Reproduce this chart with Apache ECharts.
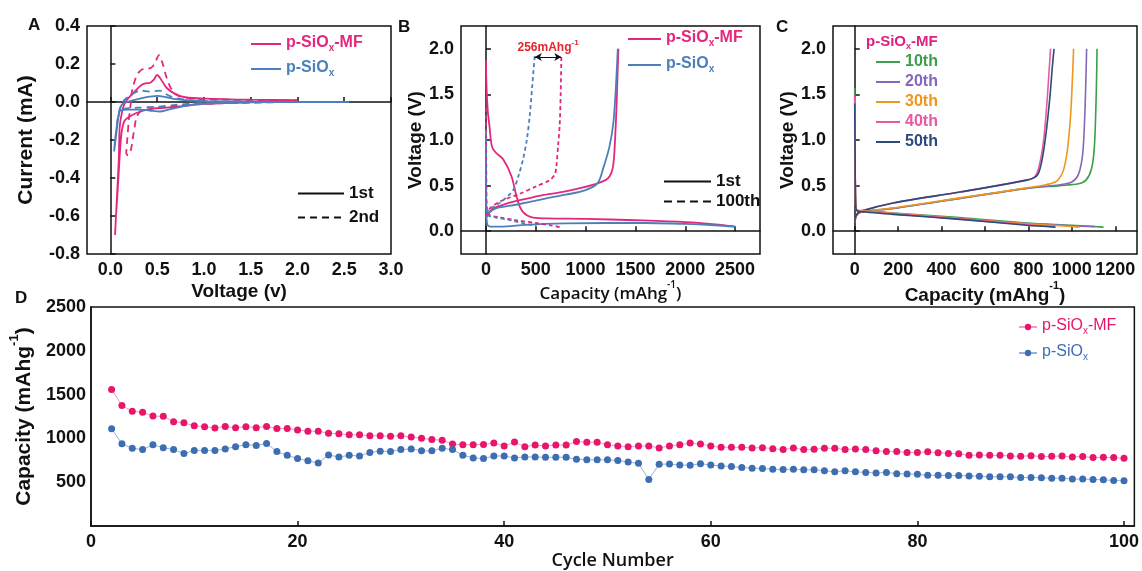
<!DOCTYPE html>
<html><head><meta charset="utf-8">
<script src="https://cdn.jsdelivr.net/npm/echarts@6/dist/echarts.min.js"></script>
<style>html,body{margin:0;padding:0;background:#fff}#c{width:1142px;height:571px}</style>
</head><body><div id="c"></div>
<script>
// ---------- Panel A : CV curves [voltage (V), current (mA)] ----------
const aVoltTicks = [0, 0.5, 1.0, 1.5, 2.0, 2.5, 3.0];
const cvMF1st = [[2.0,0.005],[1.5,0.0],[1.0,-0.01],[0.8,-0.02],[0.6,-0.03],[0.45,-0.035],[0.32,-0.05],[0.21,-0.075],[0.15,-0.1],[0.12,-0.16],[0.1,-0.28],[0.08,-0.45],[0.06,-0.6],[0.05,-0.7],[0.07,-0.5],[0.09,-0.3],[0.1,-0.13],[0.13,-0.04],[0.16,0.0],[0.21,0.03],[0.25,0.05],[0.32,0.085],[0.37,0.098],[0.42,0.1],[0.46,0.115],[0.5,0.142],[0.54,0.12],[0.6,0.075],[0.7,0.04],[0.8,0.025],[1.0,0.018],[1.5,0.012],[2.0,0.01]];
const cvMF2nd = [[2.0,0.0],[1.5,-0.003],[1.0,-0.01],[0.7,-0.02],[0.5,-0.03],[0.4,-0.04],[0.32,-0.05],[0.28,-0.08],[0.26,-0.13],[0.24,-0.19],[0.22,-0.25],[0.19,-0.28],[0.17,-0.27],[0.18,-0.2],[0.2,-0.08],[0.22,0.0],[0.23,0.054],[0.27,0.125],[0.31,0.16],[0.37,0.177],[0.42,0.177],[0.47,0.2],[0.52,0.247],[0.56,0.2],[0.6,0.13],[0.65,0.07],[0.72,0.035],[0.85,0.02],[1.0,0.015],[1.5,0.01],[2.0,0.008]];
const cvS1st = [[2.55,0.0],[2.0,0.0],[1.5,-0.002],[1.0,-0.008],[0.8,-0.02],[0.62,-0.04],[0.53,-0.05],[0.42,-0.045],[0.3,-0.04],[0.2,-0.04],[0.107,-0.045],[0.09,-0.07],[0.07,-0.12],[0.05,-0.2],[0.04,-0.26],[0.06,-0.18],[0.08,-0.1],[0.1,-0.04],[0.13,-0.01],[0.25,0.01],[0.35,0.022],[0.42,0.028],[0.5,0.032],[0.6,0.025],[0.7,0.015],[0.85,0.008],[1.0,0.005],[1.5,0.002],[2.0,0.0],[2.55,0.0]];
const cvS2nd = [[2.0,0.0],[1.0,-0.005],[0.7,-0.015],[0.5,-0.025],[0.3,-0.03],[0.15,-0.035],[0.1,-0.05],[0.08,-0.09],[0.07,-0.12],[0.08,-0.08],[0.1,-0.04],[0.13,0.0],[0.2,0.03],[0.32,0.06],[0.42,0.055],[0.53,0.06],[0.6,0.04],[0.7,0.02],[0.85,0.01],[1.0,0.005],[1.5,0.0],[2.0,0.0]];

// ---------- Panel B : GCD [capacity (mAh/g), voltage (V)] ----------
const bCapTicks = [0, 500, 1000, 1500, 2000, 2500];
const bVoltTicks = [0, 0.5, 1.0, 1.5, 2.0];
const gMF1Dis = [[0,1.88],[3,1.7],[8,1.53],[20,1.3],[35,1.16],[60,0.93],[100,0.86],[173,0.79],[257,0.6],[307,0.38],[340,0.27],[373,0.21],[420,0.17],[473,0.15],[607,0.14],[1000,0.135],[1500,0.12],[2000,0.1],[2300,0.075],[2500,0.05]];
const gMF1Chg = [[0,0.15],[30,0.2],[73,0.25],[200,0.3],[340,0.34],[550,0.39],[773,0.43],[900,0.46],[1107,0.52],[1200,0.56],[1240,0.6],[1270,0.68],[1285,0.8],[1300,1.1],[1310,1.35],[1320,1.7],[1330,2.0]];
const gS1Dis = [[0,1.1],[0,0.5],[5,0.2],[15,0.07],[50,0.05],[150,0.05],[400,0.07],[800,0.085],[1200,0.09],[1600,0.09],[2000,0.08],[2300,0.065],[2500,0.05]];
const gS1Chg = [[0,0.15],[30,0.2],[100,0.25],[300,0.29],[607,0.36],[800,0.4],[1000,0.45],[1123,0.53],[1180,0.7],[1240,0.93],[1280,1.2],[1307,1.64],[1323,2.0]];
const gMF100Dis = [[0,1.35],[2,1.0],[5,0.5],[10,0.25],[30,0.18],[150,0.15],[300,0.12],[500,0.09],[650,0.065],[740,0.045]];
const gMF100Chg = [[0,0.17],[40,0.25],[150,0.33],[340,0.41],[500,0.49],[640,0.56],[690,0.62],[707,0.71],[725,0.95],[740,1.16],[750,1.5],[757,1.92]];
const gS100Dis = [[0,1.1],[2,0.7],[5,0.3],[15,0.18],[100,0.15],[250,0.12],[400,0.08],[507,0.06]];
const gS100Chg = [[0,0.2],[50,0.25],[150,0.32],[273,0.45],[330,0.62],[373,0.79],[410,1.0],[440,1.27],[465,1.6],[490,1.92]];
const gapArrow = [490, 757, 1.91];

// ---------- Panel C : p-SiOx-MF cycles [capacity, voltage] ----------
const cCapTicks = [0, 200, 400, 600, 800, 1000, 1200];
const cycleNames = ['10th', '20th', '30th', '40th', '50th'];
const c10Dis = [[0,1.57],[2,0.8],[4,0.3],[10,0.23],[50,0.225],[177,0.2],[485,0.15],[792,0.09],[1000,0.065],[1146,0.045]];
const c20Dis = [[0,1.5],[2,0.8],[4,0.3],[10,0.23],[50,0.22],[177,0.195],[485,0.14],[792,0.085],[1000,0.06],[1105,0.05]];
const c30Dis = [[0,1.45],[2,0.8],[4,0.3],[10,0.23],[50,0.22],[177,0.195],[485,0.14],[792,0.08],[950,0.06],[1035,0.045]];
const c40Dis = [[0,1.48],[2,0.8],[4,0.3],[10,0.225],[50,0.215],[177,0.19],[485,0.135],[792,0.07],[920,0.05]];
const c50Dis = [[0,1.4],[2,0.8],[4,0.3],[10,0.225],[50,0.21],[177,0.185],[485,0.13],[792,0.065],[925,0.045]];
const c10Chg = [[0,0.1],[8,0.17],[30,0.21],[177,0.25],[485,0.36],[792,0.47],[946,0.5],[1030,0.52],[1065,0.56],[1090,0.68],[1103,0.9],[1110,1.3],[1114,1.7],[1116,2.0]];
const c20Chg = [[0,0.1],[8,0.17],[30,0.21],[177,0.25],[485,0.36],[792,0.47],[946,0.51],[1000,0.54],[1030,0.62],[1050,0.85],[1060,1.3],[1065,1.7],[1068,2.0]];
const c30Chg = [[0,0.1],[8,0.17],[30,0.21],[177,0.255],[485,0.365],[792,0.475],[880,0.51],[930,0.55],[960,0.66],[980,0.9],[995,1.3],[1003,1.7],[1008,2.0]];
const c40Chg = [[0,0.1],[8,0.18],[30,0.22],[177,0.31],[485,0.43],[792,0.56],[830,0.6],[850,0.72],[870,1.0],[885,1.4],[895,1.75],[902,2.0]];
const c50Chg = [[0,0.1],[8,0.18],[30,0.22],[177,0.31],[485,0.43],[792,0.56],[840,0.61],[860,0.75],[880,1.05],[900,1.5],[910,1.8],[918,2.0]];

// ---------- Panel D : cycling ----------
const dCycleTicks = [0, 20, 40, 60, 80, 100];
const cycles = [2,3,4,5,6,7,8,9,10,11,12,13,14,15,16,17,18,19,20,21,22,23,24,25,26,27,28,29,30,31,32,33,34,35,36,37,38,39,40,41,42,43,44,45,46,47,48,49,50,51,52,53,54,55,56,57,58,59,60,61,62,63,64,65,66,67,68,69,70,71,72,73,74,75,76,77,78,79,80,81,82,83,84,85,86,87,88,89,90,91,92,93,94,95,96,97,98,99,100];
const capMF = [1560,1376,1310,1299,1255,1252,1192,1178,1145,1134,1120,1137,1123,1134,1123,1137,1115,1115,1097,1082,1082,1060,1053,1042,1042,1031,1031,1026,1032,1016,1002,988,980,936,928,928,932,947,914,961,906,925,914,925,925,965,958,958,928,914,906,914,914,892,914,928,947,936,914,899,899,899,892,895,884,873,892,873,877,888,888,873,881,873,859,851,851,840,840,848,837,829,826,807,811,807,807,800,796,804,793,796,800,789,793,782,785,782,774];
const capS = [1112,939,888,873,928,895,873,829,862,862,862,881,906,928,921,943,851,807,771,745,719,811,789,807,800,840,855,852,873,881,859,859,888,873,807,778,771,800,800,778,789,789,785,785,785,763,756,756,756,749,730,716,532,705,708,697,694,712,697,686,679,668,661,657,650,646,650,642,642,631,620,631,620,613,606,613,598,595,591,580,580,576,576,573,569,562,562,562,554,554,551,547,547,536,536,532,528,521,517];

const PINK = '#E3287B', BLUE = '#4C7FBB';
const D_PINK = '#E8156C', D_BLUE = '#3E6EB2';
const C_COLORS = ['#3E9E4A', '#8468B9', '#F0961C', '#E85AA0', '#2C4A7C'];
const FONT = '"Liberation Sans", Arial, sans-serif';
const OFONT = '"Open Sans", "Liberation Sans", sans-serif';

const pair = (xs, ys) => xs.map((x, i) => [x, ys[i]]);

function tickLabel(fmt, custom) {
  const o = { fontFamily: FONT, fontWeight: 'bold', fontSize: 18, color: '#111', margin: 7, formatter: fmt };
  if (custom) o.customValues = custom;
  return o;
}
function ticks(custom) {
  const o = { inside: true, length: 5, lineStyle: { color: '#111', width: 1.5 } };
  if (custom) o.customValues = custom;
  return o;
}
const axLine = { show: true, lineStyle: { color: '#111', width: 1.5 } };
const richName = (size, family, weight) => ({
  fontFamily: family, fontWeight: weight, fontSize: size, color: '#111',
  rich: {
    t: { fontFamily: family, fontWeight: weight, fontSize: size, lineHeight: size + 6, verticalAlign: 'bottom', color: '#111' },
    sup: { fontFamily: family, fontWeight: weight, fontSize: Math.round(size * 0.6), lineHeight: size + 6, verticalAlign: 'top', color: '#111' }
  }
});
const capName = '{t|Capacity (mAhg}{sup|-1}{t|)}';

const LABELS = {
  A_MF: '{n|p-SiO}{s|x}{n|-MF}', A_S: '{n|p-SiO}{s|x}',
  B_MF: '{n|p-SiO}{s|x}{n|-MF}', B_S: '{n|p-SiO}{s|x}',
  D_MF: '{n|p-SiO}{s|x}{n|-MF}', D_S: '{n|p-SiO}{s|x}',
  A_1st: '1st', A_2nd: '2nd', B_1st: '1st', B_100th: '100th'
};
const subRich = (size, weight) => ({
  n: { fontFamily: FONT, fontWeight: weight, fontSize: size, lineHeight: size + 2, verticalAlign: 'top' },
  s: { fontFamily: FONT, fontWeight: weight, fontSize: Math.round(size * 0.62), lineHeight: size + 2, verticalAlign: 'bottom' }
});

function line(name, data, xi, color, dashed, width) {
  return {
    name, type: 'line', xAxisIndex: xi, yAxisIndex: xi, data, showSymbol: false, symbol: 'none',
    smooth: 0.3, lineStyle: { color, width: width || 1.8, type: dashed ? dashed : 'solid' },
    itemStyle: { color }, silent: true, z: 3
  };
}

const series = [
  // A
  line('A_MF1', cvMF1st, 0, PINK),
  line('A_MF2', cvMF2nd, 0, PINK, [7, 5]),
  line('A_S1', cvS1st, 0, BLUE),
  line('A_S2', cvS2nd, 0, BLUE, [7, 5]),
  line('A_MF', [], 0, PINK), line('A_S', [], 0, BLUE),
  line('A_1st', [], 0, '#111', null, 1.5), line('A_2nd', [], 0, '#111', [7, 5], 1.5),
  // B
  line('B_MF1d', gMF1Dis, 1, PINK), line('B_MF1c', gMF1Chg, 1, PINK),
  line('B_S1d', gS1Dis, 1, BLUE), line('B_S1c', gS1Chg, 1, BLUE),
  line('B_MF100d', gMF100Dis, 1, PINK, [4, 3]),
  Object.assign(line('B_MF100c', gMF100Chg, 1, PINK, [4, 3]), {
    markLine: {
      silent: true, symbol: ['arrow', 'arrow'], symbolSize: [6, 7],
      lineStyle: { color: '#111', width: 1, type: 'solid' },
      label: {
        show: true, position: 'insideMiddleTop', distance: 3,
        formatter: '{a|256mAhg}{s|-1}',
        rich: {
          a: { fontFamily: FONT, fontWeight: 'bold', fontSize: 12, color: '#E3262E', lineHeight: 15, verticalAlign: 'bottom' },
          s: { fontFamily: FONT, fontWeight: 'bold', fontSize: 8, color: '#E3262E', lineHeight: 15, verticalAlign: 'top' }
        }
      },
      data: [[{ coord: [gapArrow[0], gapArrow[2]] }, { coord: [gapArrow[1], gapArrow[2]] }]]
    }
  }),
  line('B_S100d', gS100Dis, 1, BLUE, [4, 3]), line('B_S100c', gS100Chg, 1, BLUE, [4, 3]),
  line('B_MF', [], 1, PINK), line('B_S', [], 1, BLUE),
  line('B_1st', [], 1, '#111', null, 1.5), line('B_100th', [], 1, '#111', [8, 5], 1.5)
];
const cDis = [c10Dis, c20Dis, c30Dis, c40Dis, c50Dis];
const cChg = [c10Chg, c20Chg, c30Chg, c40Chg, c50Chg];
cycleNames.forEach((n, i) => {
  series.push(line(n, cChg[i], 2, C_COLORS[i], null, 1.6));
});
cycleNames.forEach((n, i) => {
  series.push(line(n, cDis[i], 2, C_COLORS[i], null, 1.6));
});
series.push({
  name: 'D_MF', type: 'line', xAxisIndex: 3, yAxisIndex: 3, data: pair(cycles, capMF),
  symbol: 'circle', symbolSize: 7, itemStyle: { color: D_PINK }, lineStyle: { color: '#EE9DBD', width: 1 }, z: 3
});
series.push({
  name: 'D_S', type: 'line', xAxisIndex: 3, yAxisIndex: 3, data: pair(cycles, capS),
  symbol: 'circle', symbolSize: 7, itemStyle: { color: D_BLUE }, lineStyle: { color: '#97B2D9', width: 1 }, z: 3
});

const grids = [
  { left: 87, top: 26, width: 304, height: 228 },
  { left: 461, top: 26, width: 299, height: 228 },
  { left: 833, top: 26, width: 304, height: 228 },
  { left: 87, top: 307, width: 1050, height: 228 }
].map(g => Object.assign(g, { show: true, borderColor: '#111', borderWidth: 1.5, containLabel: false }));

const f1 = v => v.toFixed(1), f0 = v => String(Math.round(v));
const xAxis = [
  { gridIndex: 0, type: 'value', min: -0.25, max: 3.0, axisLine: axLine, splitLine: { show: false },
    axisLabel: tickLabel(f1, aVoltTicks), axisTick: ticks(aVoltTicks),
    name: 'Voltage (v)', nameLocation: 'middle', nameGap: 28,
    nameTextStyle: { fontFamily: FONT, fontWeight: 'bold', fontSize: 19, color: '#111' } },
  { gridIndex: 1, type: 'value', min: -250, max: 2750, axisLine: axLine, splitLine: { show: false },
    axisLabel: tickLabel(f0, bCapTicks), axisTick: ticks(bCapTicks),
    name: capName, nameLocation: 'middle', nameGap: 26, nameTextStyle: richName(17, OFONT, 600) },
  { gridIndex: 2, type: 'value', min: -100, max: 1300, axisLine: axLine, splitLine: { show: false },
    axisLabel: tickLabel(f0, cCapTicks), axisTick: ticks(cCapTicks),
    name: capName, nameLocation: 'middle', nameGap: 26, nameTextStyle: richName(19, FONT, 'bold') },
  { gridIndex: 3, type: 'value', min: 0, max: 101, axisLine: axLine, splitLine: { show: false },
    axisLabel: tickLabel(f0, dCycleTicks), axisTick: ticks(dCycleTicks),
    name: 'Cycle Number', nameLocation: 'middle', nameGap: 24,
    nameTextStyle: { fontFamily: OFONT, fontWeight: 600, fontSize: 18, color: '#111' } }
];
const yAxis = [
  { gridIndex: 0, type: 'value', min: -0.8, max: 0.4, interval: 0.2, axisLine: axLine, splitLine: { show: false },
    axisLabel: tickLabel(f1), axisTick: ticks(),
    name: 'Current (mA)', nameLocation: 'middle', nameGap: 50,
    nameTextStyle: { fontFamily: FONT, fontWeight: 'bold', fontSize: 21, color: '#111' } },
  { gridIndex: 1, type: 'value', min: -0.25, max: 2.25, axisLine: axLine, splitLine: { show: false },
    axisLabel: tickLabel(f1, bVoltTicks), axisTick: ticks(bVoltTicks),
    name: 'Voltage (V)', nameLocation: 'middle', nameGap: 36,
    nameTextStyle: { fontFamily: FONT, fontWeight: 'bold', fontSize: 19, color: '#111' } },
  { gridIndex: 2, type: 'value', min: -0.25, max: 2.25, axisLine: axLine, splitLine: { show: false },
    axisLabel: tickLabel(f1, bVoltTicks), axisTick: ticks(bVoltTicks),
    name: 'Voltage (V)', nameLocation: 'middle', nameGap: 34,
    nameTextStyle: { fontFamily: FONT, fontWeight: 'bold', fontSize: 19, color: '#111' } },
  { gridIndex: 3, type: 'value', min: 0, max: 2500, interval: 500, axisLine: axLine, splitLine: { show: false },
    axisLabel: Object.assign(tickLabel(f0), { showMinLabel: false, margin: 5 }), axisTick: { show: false },
    name: capName, nameLocation: 'middle', nameGap: 46, nameTextStyle: richName(21, FONT, 'bold') }
];

function legend(items, left, top, itemWidth, gap, size, weight, hideSymbol) {
  const lg = {
    orient: 'vertical', left, top, itemWidth, itemHeight: 8, itemGap: gap, padding: 0,
    selectedMode: false,
    data: items.map(([name, color]) => ({ name, textStyle: { color } })),
    formatter: n => LABELS[n] || n,
    textStyle: { fontFamily: FONT, fontWeight: weight, fontSize: size, color: '#111', rich: subRich(size, weight) }
  };
  if (hideSymbol) lg.itemStyle = { opacity: 0, borderWidth: 0 };
  return lg;
}

const legends = [
  legend([['A_MF', PINK], ['A_S', BLUE]], 250, 35, 30, 7, 16, 'bold', true),
  legend([['A_1st', '#111'], ['A_2nd', '#111']], 297, 185, 46, 7, 17, 'bold', true),
  legend([['B_MF', PINK], ['B_S', BLUE]], 627, 30, 33, 8, 16, 'bold', true),
  legend([['B_1st', '#111'], ['B_100th', '#111']], 663, 173, 47, 3, 17, 'bold', true),
  legend(cycleNames.map((n, i) => [n, C_COLORS[i]]), 875, 54, 24, 4, 16, 'bold', true),
  legend([['D_MF', D_PINK], ['D_S', D_BLUE]], 1018, 318, 18, 8, 16, 'normal', false)
];

const titleStyle = { fontFamily: FONT, fontWeight: 'bold', fontSize: 17, color: '#111' };
const titles = [
  { text: 'A', left: 28, top: 17, padding: 0, textStyle: titleStyle },
  { text: 'B', left: 398, top: 19, padding: 0, textStyle: titleStyle },
  { text: 'C', left: 776, top: 19, padding: 0, textStyle: titleStyle },
  { text: 'D', left: 15, top: 290, padding: 0, textStyle: titleStyle },
  { text: '{n|p-SiO}{s|x}{n|-MF}', left: 866, top: 34, padding: 0,
    textStyle: { fontFamily: FONT, fontWeight: 'bold', fontSize: 15, color: '#E0207F', rich: subRich(15, 'bold') } }
];

const chart = echarts.init(document.getElementById('c'), null, { renderer: 'canvas' });
chart.setOption({
  backgroundColor: '#fff', animation: false,
  title: titles, legend: legends, grid: grids, xAxis, yAxis, series
});
</script></body></html>
